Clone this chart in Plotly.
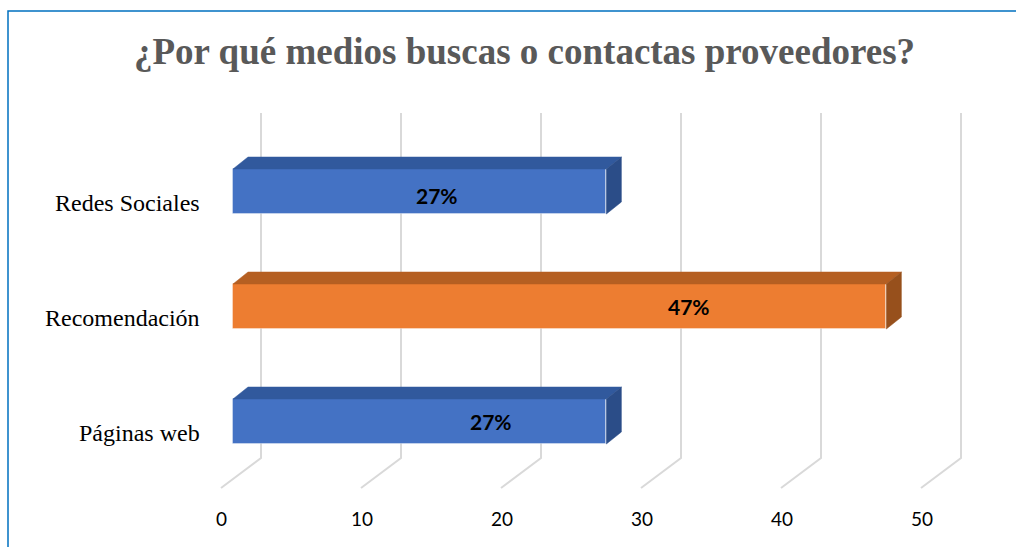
import plotly.graph_objects as go

# ---- data ----
categories = ["Páginas web", "Recomendación", "Redes Sociales"]   # bottom -> top
values = [26.67, 46.67, 26.67]                                    # percent
tick_values = [0, 10, 20, 30, 40, 50]
title_text = "¿Por qué medios buscas o contactas proveedores?"

# ---- styling ----
front_colors = ["#4472C4", "#ED7D31", "#4472C4"]
top_colors = ["#31599D", "#B55F22", "#31599D"]
side_colors = ["#2B4D88", "#97501C", "#2B4D88"]
label_frac = [0.69, 0.698, 0.547]     # where along each bar its label sits
label_dy_px = [0, 0, 4]               # label vertical nudge (px, downward)
grid_color = "#D9D9D9"
SERIF = "Liberation Serif, Times New Roman, serif"
SANS = "Lato, Carlito, sans-serif"

W, H = 1016, 547
X0, SX = 233.0, 14.0          # px of value 0 on front plane, px per unit
Y0, SY = 421.5, 115.0         # px of first category centre, px per category


def xd(px):
    return (px - X0) / SX


def yd(py):
    return (Y0 - py) / SY


BAR_W = 45 / SY
DX = 15 / SX
DY = 12 / SY

fig = go.Figure()

# front faces (bars)
idx = list(range(len(categories)))
fig.add_trace(go.Bar(
    x=values, y=idx, orientation="h", width=BAR_W, base=0,
    marker=dict(color=front_colors, line=dict(color="rgba(255,255,255,0.35)", width=1)),
    hoverinfo="skip", showlegend=False,
))

# 3D top and side faces
for i, v in enumerate(values):
    top = i + BAR_W / 2
    bot = i - BAR_W / 2
    fig.add_trace(go.Scatter(
        x=[0, v, v + DX, DX, 0], y=[top, top, top + DY, top + DY, top],
        fill="toself", fillcolor=top_colors[i], mode="lines",
        line=dict(color=top_colors[i], width=0.5), hoverinfo="skip", showlegend=False))
    fig.add_trace(go.Scatter(
        x=[v, v, v + DX, v + DX, v], y=[top, bot, bot + DY, top + DY, top],
        fill="toself", fillcolor=side_colors[i], mode="lines",
        line=dict(color=side_colors[i], width=0.5), hoverinfo="skip", showlegend=False))

shapes = []
# 3D gridlines (back wall + floor)
for t in tick_values:
    xb = t + 28 / SX
    xf = t - 12 / SX
    shapes.append(dict(
        type="path", xref="x", yref="y", layer="below",
        path=f"M {xb},{yd(113)} L {xb},{yd(458)} L {xf},{yd(488)}",
        line=dict(color=grid_color, width=2)))

# chart border
shapes.append(dict(type="rect", xref="paper", yref="paper",
                   x0=8 / W, x1=1.02, y0=-0.05, y1=1 - 11 / H,
                   line=dict(color="#0070C0", width=1.5)))

annotations = []
# tick labels
for t in tick_values:
    annotations.append(dict(x=t - 12 / SX + 0.05, y=yd(518), xref="x", yref="y",
                            xanchor="center", yanchor="middle",
                            text=str(t), showarrow=False,
                            font=dict(family=SANS, size=19, color="#000000")))
# category labels
for i, c in enumerate(categories):
    annotations.append(dict(x=xd(202), y=i - 11.5 / SY, xref="x", yref="y",
                            text=c, showarrow=False, xanchor="right", yanchor="middle",
                            font=dict(family=SERIF, size=24, color="#000000")))
# data labels
for i, v in enumerate(values):
    annotations.append(dict(x=v * label_frac[i], y=i - label_dy_px[i] / SY, xref="x", yref="y",
                            xanchor="center", yanchor="middle",
                            text=f"<b>{round(v)}%</b>", showarrow=False,
                            font=dict(family=SANS, size=21, color="#000000")))
# title
annotations.append(dict(x=524.5 / W, y=1 - 52 / H, xref="paper", yref="paper",
                        xanchor="center", yanchor="middle",
                        text=f"<b>{title_text}</b>", showarrow=False,
                        font=dict(family=SERIF, size=37, color="#595959")))

fig.update_layout(
    width=W, height=H,
    margin=dict(l=0, r=0, t=0, b=0),
    paper_bgcolor="white", plot_bgcolor="white",
    xaxis=dict(range=[xd(0), xd(W)], visible=False, fixedrange=True),
    yaxis=dict(range=[yd(H), yd(0)], visible=False, fixedrange=True),
    shapes=shapes, annotations=annotations, bargap=0,
)

fig.write_html("out.html")
